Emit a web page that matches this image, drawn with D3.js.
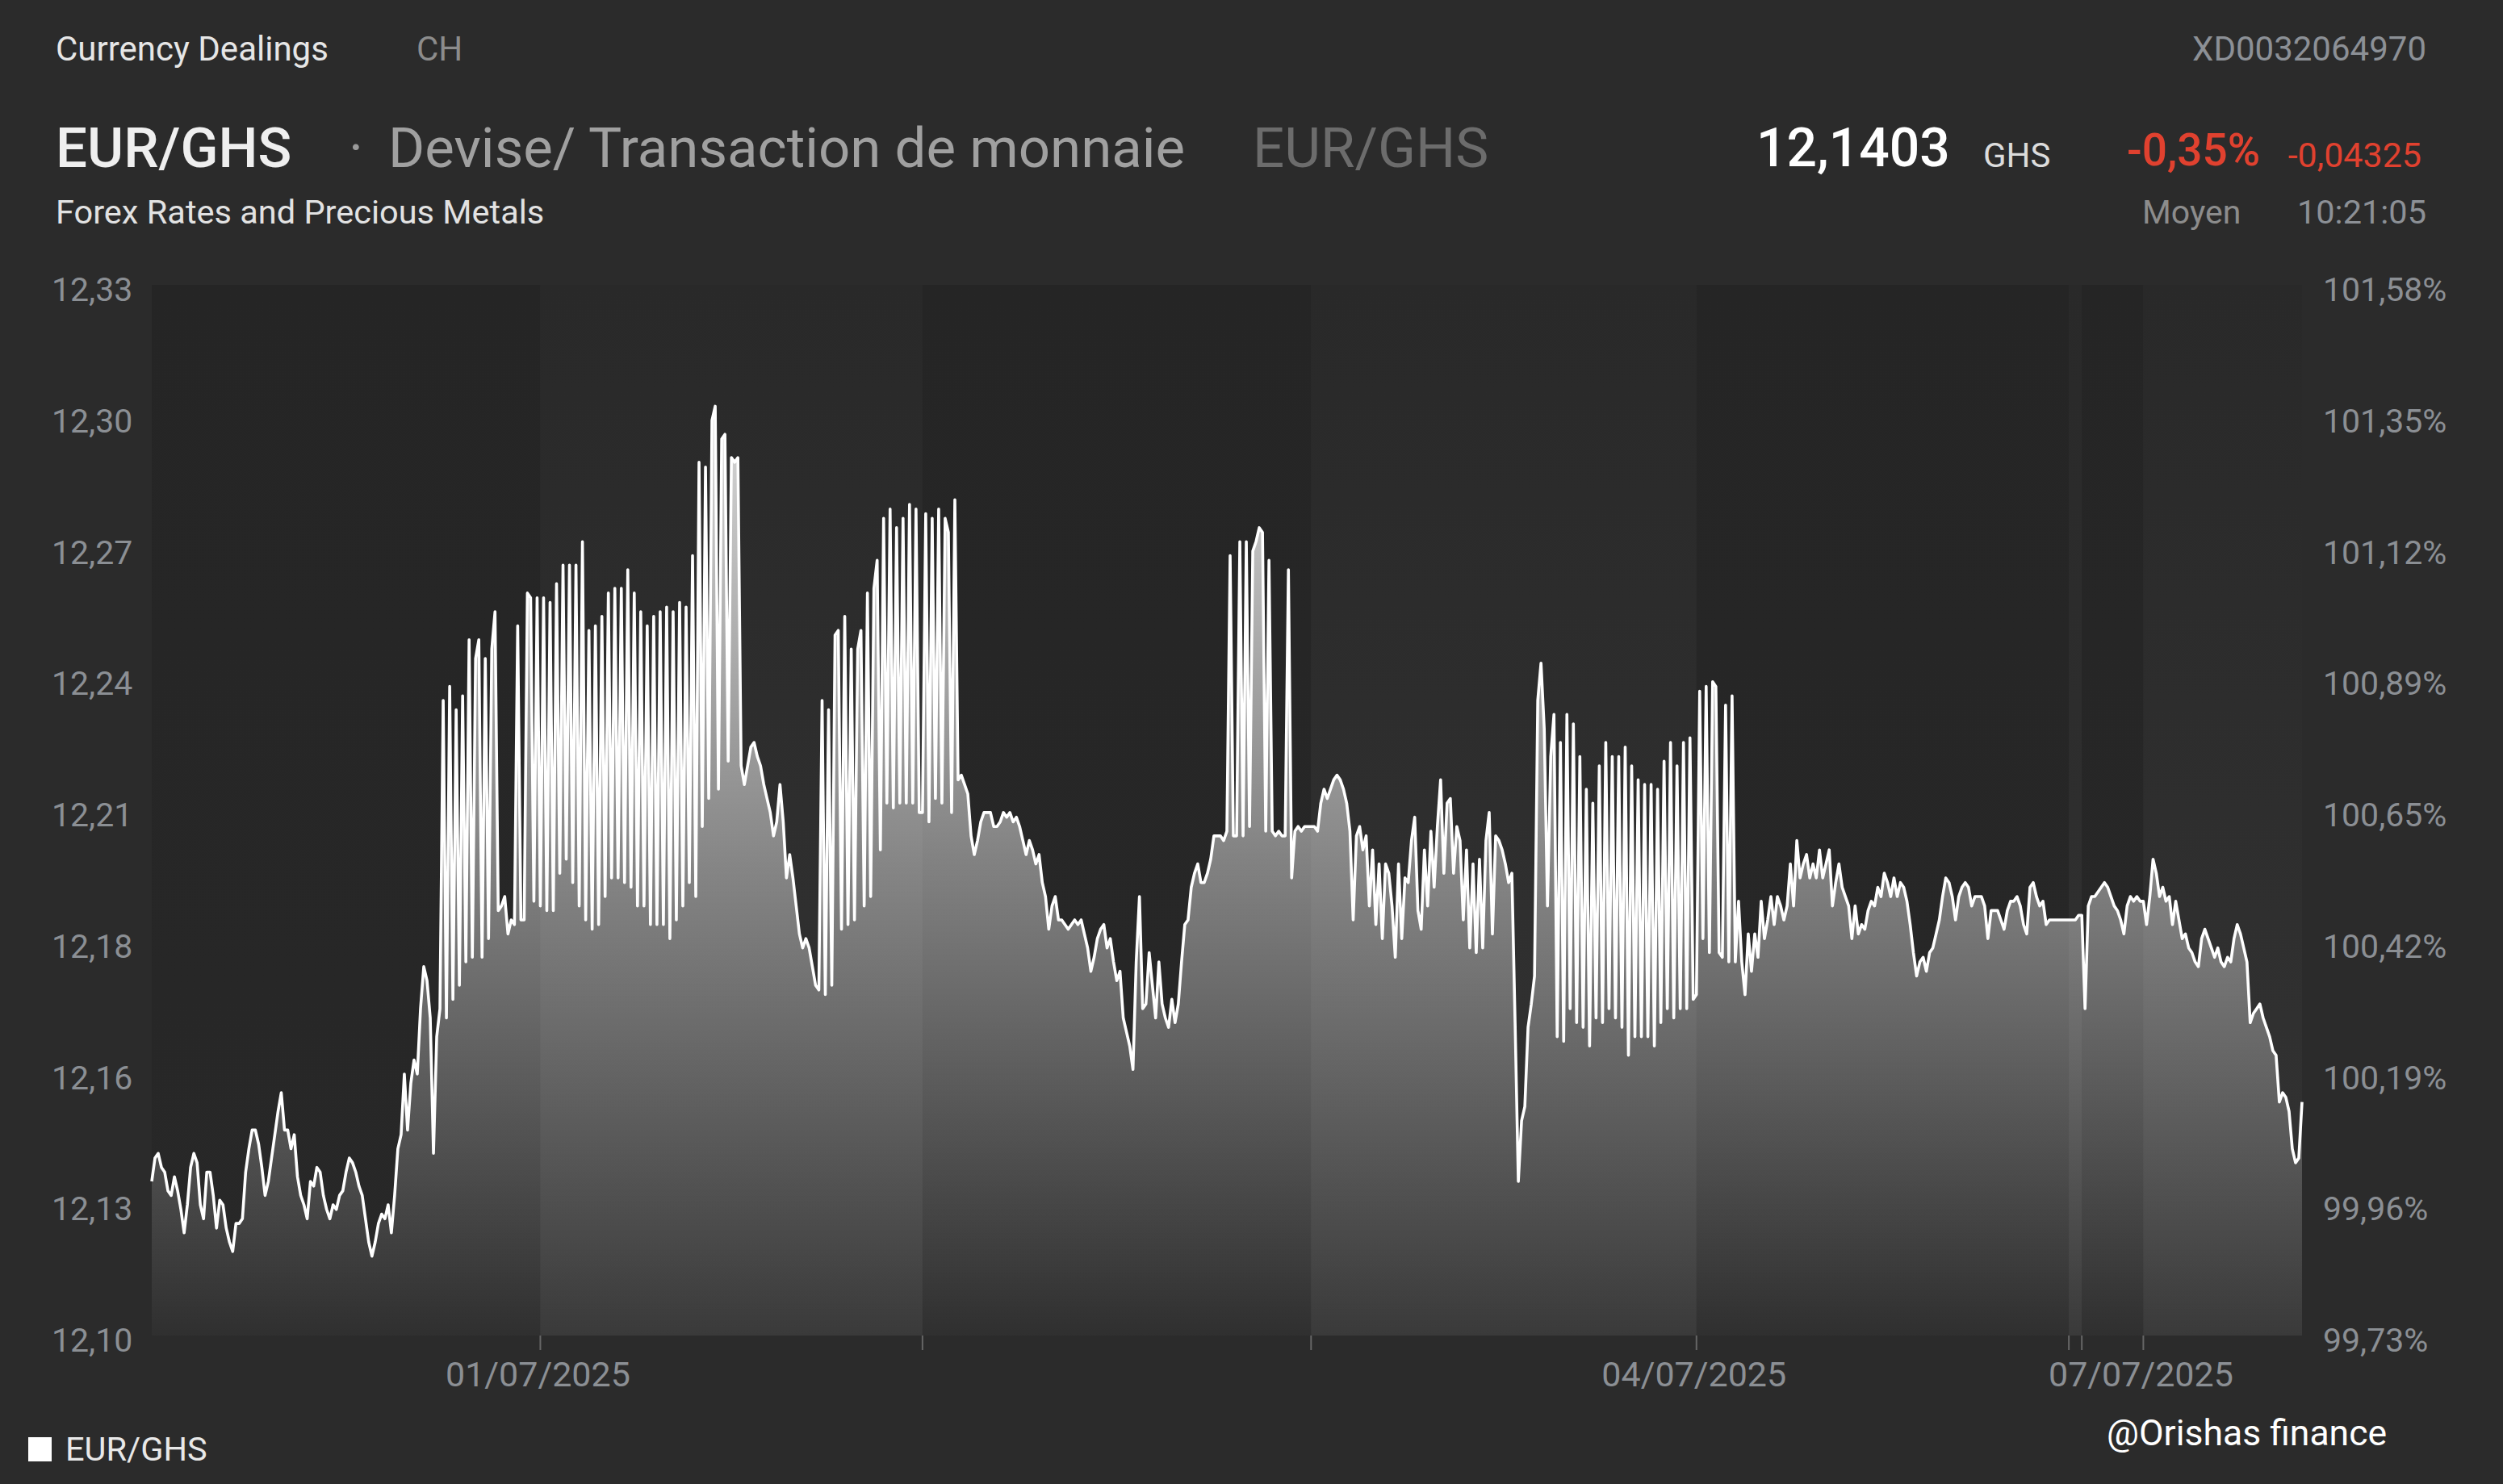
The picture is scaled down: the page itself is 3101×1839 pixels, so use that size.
<!DOCTYPE html>
<html><head><meta charset="utf-8">
<script src="https://cdn.jsdelivr.net/npm/d3@7"></script>
<style>
html,body{margin:0;padding:0;background:#2b2b2b;}
svg{display:block;}
text{font-family:Roboto,"Noto Sans",sans-serif;}
</style></head><body>
<svg id="chart" width="3101" height="1839"></svg>
<script>
// ---------- DATA ----------
const dayLabels = ["30/06/2025","01/07/2025","02/07/2025","03/07/2025","04/07/2025","05/07/2025","06/07/2025","07/07/2025"];
const labeledDays = ["01/07/2025","04/07/2025","07/07/2025"];

const d0630 = [12.133,12.138,12.139,12.136,12.135,12.131,12.130,12.134,12.131,12.127,
12.122,12.128,12.136,12.139,12.137,12.128,12.125,12.135,12.135,12.130,
12.123,12.129,12.128,12.123,12.120,12.118,12.124,12.124,12.125,12.135,
12.140,12.144,12.144,12.141,12.136,12.130,12.133,12.138,12.143,12.148,
12.152,12.144,12.144,12.140,12.143,12.134,12.130,12.128,12.125,12.133,
12.132,12.136,12.135,12.130,12.127,12.125,12.128,12.127,12.130,12.131,
12.135,12.138,12.137,12.135,12.132,12.130,12.125,12.120,12.117,12.120,
12.124,12.126,12.125,12.128,12.122,12.130,12.140,12.143,12.156,12.144,
12.154,12.159,12.156,12.170,12.179,12.176,12.168,12.139,12.164,12.170,
12.236,12.168,12.239,12.172,12.234,12.175,12.237,12.180,12.249,12.181,
12.245,12.249,12.181,12.245,12.185,12.247,12.255,12.191,12.192,12.194,
12.186,12.189,12.188,12.252,12.189,12.189,12.259,12.258,12.193,12.258];

const d0701 = [12.192,12.258,12.191,12.257,12.191,12.261,12.199,12.265,12.202,12.265,
12.197,12.265,12.192,12.270,12.189,12.251,12.187,12.252,12.188,12.254,
12.194,12.259,12.198,12.260,12.198,12.260,12.197,12.264,12.196,12.259,
12.192,12.255,12.192,12.252,12.188,12.254,12.188,12.255,12.188,12.256,
12.185,12.255,12.189,12.257,12.192,12.256,12.197,12.267,12.194,12.287,
12.209,12.286,12.215,12.296,12.299,12.217,12.292,
12.293,12.223,12.288,12.287,12.288,12.222,12.218,12.222,12.226,12.227,
12.224,12.222,12.218,12.215,12.212,12.207,12.210,12.218,12.210,12.198,
12.203,12.198,12.192,12.186,12.183,12.185,12.183,12.179,12.175,12.174,
12.236,12.173,12.234,12.175,12.250,12.251,12.187,12.254,12.188,12.247,
12.189,12.247,12.251,12.192,12.259,12.194,12.260,12.266,12.204,12.275,
12.214,12.277,12.213,12.273,12.214,12.275,12.214,12.278,12.214,12.277,
12.212];

const d0702 = [12.212,12.276,12.210,12.275,12.215,12.277,12.214,12.275,12.272,12.212,
12.279,12.219,12.220,12.218,12.216,12.207,12.203,12.206,12.210,12.212,
12.212,12.212,12.209,12.209,12.210,12.212,12.211,12.212,12.210,12.211,
12.209,12.206,12.203,12.206,12.204,12.201,12.203,12.197,12.194,12.187,
12.192,12.194,12.189,12.189,12.188,12.187,12.188,12.189,12.188,12.189,
12.186,12.183,12.178,12.181,12.185,12.187,12.188,12.183,12.185,12.180,
12.176,12.178,12.168,12.165,12.162,12.157,12.180,12.194,12.170,12.171,
12.182,12.175,12.168,12.180,12.171,12.168,12.166,12.172,12.167,12.171,
12.180,12.188,12.189,12.196,12.199,12.201,12.197,12.197,12.199,12.202,
12.207,12.207,12.207,12.206,12.208,12.267,12.207,12.207,12.270,12.207,
12.270,12.209,12.268,12.270,12.273,12.272,12.208,12.266,12.208,12.207,
12.208,12.207,12.207,12.264,12.198,12.208,12.209,12.208,12.209,12.209];

const d0703 = [12.209,12.209,12.208,12.214,12.217,12.215,12.217,12.219,12.220,12.219,
12.217,12.214,12.208,12.189,12.207,12.209,12.204,12.207,12.192,12.204,
12.188,12.201,12.185,12.201,12.199,12.192,12.181,12.201,12.185,12.198,
12.197,12.206,12.211,12.191,12.187,12.204,12.192,12.208,12.196,12.209,
12.219,12.199,12.214,12.215,12.199,12.209,12.206,12.189,12.204,12.183,
12.201,12.182,12.202,12.183,12.206,12.212,12.186,12.207,12.206,12.204,
12.201,12.197,12.199,12.167,12.133,12.146,12.149,12.166,12.171,12.177,
12.236,12.244,12.230,12.192,12.224,12.233,12.164,12.227,12.163,12.233,
12.170,12.231,12.167,12.224,12.166,12.217,12.162,12.214,12.168,12.222,
12.167,12.227,12.170,12.224,12.168,12.224,12.166,12.226,12.160,12.222,
12.164,12.219,12.164,12.218,12.164,12.218,12.162,12.217,12.167,12.223,
12.170,12.227,12.168,12.222,12.170,12.227,12.170,12.228,12.172];

const d0704 = [12.173,12.238,12.185,12.239,12.182,12.240,12.239,12.182,12.181,12.235,
12.180,12.237,12.180,12.193,12.180,12.173,12.186,12.178,12.186,12.181,
12.193,12.185,12.189,12.194,12.188,12.194,12.192,12.189,12.192,12.201,
12.192,12.206,12.198,12.201,12.203,12.198,12.201,12.198,12.204,12.198,
12.201,12.204,12.192,12.197,12.201,12.196,12.194,12.192,12.185,12.192,
12.186,12.188,12.187,12.191,12.193,12.192,12.196,12.194,12.199,12.197,
12.194,12.198,12.194,12.197,12.196,12.193,12.188,12.182,12.177,12.180,
12.181,12.178,12.182,12.183,12.186,12.189,12.194,12.198,12.197,12.194,
12.189,12.194,12.196,12.197,12.196,12.192,12.194,12.194,12.194,12.192,
12.185,12.191,12.191,12.191,12.189,12.187,12.191,12.193,12.193,12.194,
12.192,12.188,12.186,12.196,12.197,12.194,12.192,12.193,12.188,12.189,
12.189,12.189,12.189,12.189,12.189];

const d0705 = [12.189,12.189,12.189,12.190];

const d0706 = [12.190,12.170,12.192,12.194,12.194,12.195,12.196,12.197,12.196,12.194,
12.192,12.191,12.189,12.186,12.192,12.194,12.193,12.194,12.193];

const d0707 = [12.193,12.188,12.194,12.202,12.199,12.194,12.196,12.193,12.194,12.188,
12.193,12.189,12.185,12.186,12.183,12.182,12.180,12.179,12.185,12.187,
12.185,12.183,12.181,12.183,12.180,12.179,12.181,12.180,12.185,12.188,
12.186,12.183,12.180,12.167,12.169,12.170,12.171,12.168,12.166,12.164,
12.161,12.160,12.150,12.152,12.151,12.148,12.140,12.137,12.138,12.150];

const dailySeries = [d0630,d0701,d0702,d0703,d0704,d0705,d0706,d0707];

const yDomain = [12.10, 12.325];
const leftTickLabels = ["12,10","12,13","12,16","12,18","12,21","12,24","12,27","12,30","12,33"];
const rightTickLabels = ["99,73%","99,96%","100,19%","100,42%","100,65%","100,89%","101,12%","101,35%","101,58%"];

const headerInfo = {
  group: "Currency Dealings", country: "CH", isin: "XD0032064970",
  name: "EUR/GHS", type: "Devise/ Transaction de monnaie", symbol: "EUR/GHS",
  subtitle: "Forex Rates and Precious Metals",
  last: "12,1403", currency: "GHS", changePct: "-0,35%", changeAbs: "-0,04325",
  priceType: "Moyen", time: "10:21:05"
};
const legendLabel = "EUR/GHS";
const watermark = "@Orishas finance";

// ---------- BUILD ----------
const W = 3101, H = 1839;
const plot = {left: 188, right: 2852, top: 353, bottom: 1655};

const points = [];
const dayStarts = [];
dailySeries.forEach((arr, k) => {
  dayStarts.push(points.length);
  arr.forEach(v => points.push({i: points.length, v: v, day: k}));
});
const N = points.length;

const x = d3.scaleLinear().domain([0, N - 1]).range([plot.left, plot.right]);
const y = d3.scaleLinear().domain(yDomain).range([plot.bottom, plot.top]);

const svg = d3.select("#chart");
svg.append("rect").attr("width", W).attr("height", H).attr("fill", "#2b2b2b");

const defs = svg.append("defs");
function vGrad(id, stops) {
  const g = defs.append("linearGradient").attr("id", id)
    .attr("gradientUnits", "userSpaceOnUse")
    .attr("x1", 0).attr("x2", 0).attr("y1", plot.top).attr("y2", plot.bottom);
  stops.forEach(s => g.append("stop").attr("offset", s[0]).attr("stop-color", s[1]).attr("stop-opacity", s[2]));
}
vGrad("bandDark", [[0, "#252525", 1], [1, "#282828", 1]]);
vGrad("bandLight", [[0, "#292929", 1], [1, "#333333", 1]]);
vGrad("areaGrad", [[0, "#ffffff", 0.92], [0.55, "#ffffff", 0.42], [1, "#ffffff", 0.035]]);

// day bands
const bands = dayStarts.map((s, k) => ({
  k: k,
  x0: k === 0 ? x(0) : x(s),
  x1: k < dayStarts.length - 1 ? x(dayStarts[k + 1]) : x(N - 1)
}));
svg.append("g").selectAll("rect").data(bands).join("rect")
  .attr("x", d => d.x0).attr("y", plot.top)
  .attr("width", d => Math.max(0, d.x1 - d.x0)).attr("height", plot.bottom - plot.top)
  .attr("fill", d => d.k % 2 === 0 ? "url(#bandDark)" : "url(#bandLight)");

// area + line
const area = d3.area().x(d => x(d.i)).y0(y(yDomain[0])).y1(d => y(d.v));
const line = d3.line().x(d => x(d.i)).y(d => y(d.v));
svg.append("path").datum(points).attr("d", area).attr("fill", "url(#areaGrad)");
svg.append("path").datum(points).attr("d", line)
  .attr("fill", "none").attr("stroke", "#ffffff").attr("stroke-width", 3.6)
  .attr("stroke-linejoin", "round");

// x ticks
const tickDays = dayStarts.map((s, k) => ({k: k, s: s, label: dayLabels[k]})).filter(d => d.k > 0);
svg.append("g").selectAll("line").data(tickDays).join("line")
  .attr("x1", d => x(d.s)).attr("x2", d => x(d.s))
  .attr("y1", plot.bottom).attr("y2", plot.bottom + 18)
  .attr("stroke", "#666666").attr("stroke-width", 2);
svg.append("g").selectAll("text").data(tickDays.filter(d => labeledDays.includes(d.label))).join("text")
  .attr("x", d => x(d.s) - 3).attr("y", 1718)
  .attr("text-anchor", "middle").attr("font-size", 43).attr("fill", "#8b8f94")
  .text(d => d.label);

// y axes labels
const tickVals = leftTickLabels.map((_, k) => yDomain[0] + k * (yDomain[1] - yDomain[0]) / (leftTickLabels.length - 1));
svg.append("g").selectAll("text").data(tickVals).join("text")
  .attr("x", 64).attr("y", d => y(d) + 20)
  .attr("font-size", 41).attr("fill", "#8b8f94")
  .text((d, k) => leftTickLabels[k]);
svg.append("g").selectAll("text").data(tickVals).join("text")
  .attr("x", 2878).attr("y", d => y(d) + 20)
  .attr("font-size", 41).attr("fill", "#8b8f94")
  .text((d, k) => rightTickLabels[k]);

// header
function txt(t, xx, yy, size, fill, opts) {
  opts = opts || {};
  return svg.append("text").attr("x", xx).attr("y", yy).attr("font-size", size)
    .attr("fill", fill).attr("font-weight", opts.weight || 400)
    .attr("text-anchor", opts.anchor || "start")
    .attr("font-family", opts.family || null)
    .text(t);
}
txt(headerInfo.group, 69, 75, 42, "#e6e6e6");
txt(headerInfo.country, 516, 75, 42, "#8c8c8c");
txt(headerInfo.isin, 3006, 75, 42, "#8c9096", {anchor: "end"});
txt(headerInfo.name, 69, 207, 69, "#efefef", {weight: 500});
txt("·", 432, 207, 69, "#9a9a9a");
txt(headerInfo.type, 481, 207, 69, "#a0a0a0");
txt(headerInfo.symbol, 1552, 207, 69, "#6c6c6c");
txt(headerInfo.last, 2176, 206, 66, "#ffffff", {weight: 500});
txt(headerInfo.currency, 2457, 207, 42, "#dcdcdc");
txt(headerInfo.changePct, 2635, 205, 55, "#e0412f", {weight: 500});
txt(headerInfo.changeAbs, 3000, 207, 43, "#e0412f", {anchor: "end"});
txt(headerInfo.subtitle, 69, 277, 41.5, "#e2e2e2");
txt(headerInfo.priceType, 2654, 277, 41, "#8c8c8c");
txt(headerInfo.time, 3006, 277, 41.5, "#8c9096", {anchor: "end"});

// legend
svg.append("rect").attr("x", 35).attr("y", 1781).attr("width", 29).attr("height", 30).attr("fill", "#ffffff");
txt(legendLabel, 81, 1810, 41.5, "#e8e8e8");

// watermark
txt(watermark, 2610, 1791, 44.5, "#ffffff", {family: "'Open Sans', 'Noto Sans', sans-serif"});
</script>
</body></html>
